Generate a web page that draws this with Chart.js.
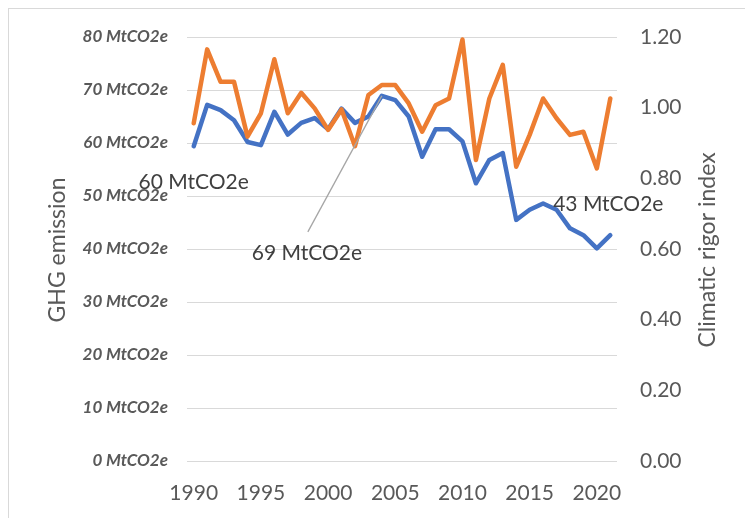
<!DOCTYPE html>
<html>
<head>
<meta charset="utf-8">
<script src="https://cdn.jsdelivr.net/npm/chart.js@4.4.1/dist/chart.umd.min.js"></script>
<style>
  body { margin: 0; background: #fff; overflow: hidden; }
  #wrap { position: absolute; left: 0; top: 0; width: 745px; height: 518px; }
  #frame { position: absolute; left: 8px; top: 8px; width: 800px; height: 600px; border: 1px solid #d9d9d9; pointer-events: none; }
</style>
</head>
<body>
<div id="wrap"><canvas id="chart" width="745" height="518"></canvas></div>
<div id="frame"></div>
<script>
// GHG emissions vs climatic rigor index, 1990-2021
const years = [];
for (let y = 1990; y <= 2021; y++) years.push(y);

const ghg = [59.4, 67.2, 66.2, 64.3, 60.2, 59.6, 65.9, 61.6, 63.8, 64.7, 62.6, 66.5, 63.8, 65.0, 68.9, 68.1,
  65.0, 57.4, 62.6, 62.6, 60.3, 52.4, 56.8, 58.1, 45.5, 47.4, 48.6, 47.4, 43.9, 42.6, 40.1, 42.6];
const rigor = [0.956, 1.165, 1.073, 1.073, 0.918, 0.984, 1.137, 0.984, 1.042, 0.998, 0.937, 0.995, 0.891, 1.036, 1.064, 1.064,
  1.012, 0.932, 1.007, 1.026, 1.193, 0.852, 1.026, 1.121, 0.833, 0.923, 1.026, 0.970, 0.923, 0.932, 0.828, 1.026];

// labelled points: index into years, text, offset of label centre from the point
const callouts = [
  { i: 0, text: '60 MtCO2e', dx: 0, dy: 36, leader: false },
  { i: 14, text: '69 MtCO2e', dx: -75, dy: 157, leader: true },
  { i: 31, text: '43 MtCO2e', dx: -2, dy: -31, leader: false }
];

const extras = {
  id: 'extras',
  afterDatasetsDraw(chart) {
    const ctx = chart.ctx;
    const x = chart.scales.x, y = chart.scales.y;
    ctx.save();
    ctx.font = '21px Lato';
    ctx.fillStyle = '#404040';
    ctx.textAlign = 'center';
    ctx.textBaseline = 'middle';
    callouts.forEach(c => {
      const px = x.getPixelForValue(c.i);
      const py = y.getPixelForValue(ghg[c.i]);
      const lx = px + c.dx, ly = py + c.dy;
      if (c.leader) {
        ctx.strokeStyle = '#a6a6a6';
        ctx.lineWidth = 1.3;
        ctx.beginPath();
        ctx.moveTo(lx + 1, ly - 21);
        ctx.lineTo(px, py);
        ctx.stroke();
      }
      ctx.fillText(c.text, lx, ly);
    });
    // axis titles
    ctx.fillStyle = '#595959';
    ctx.font = '23px Lato';
    ctx.translate(58, 250);
    ctx.rotate(-Math.PI / 2);
    ctx.fillText('GHG emission', 0, 0);
    ctx.rotate(Math.PI / 2);
    ctx.translate(650, 0);
    ctx.rotate(-Math.PI / 2);
    ctx.fillText('Climatic rigor index', 0, 0);
    ctx.restore();
  }
};

new Chart(document.getElementById('chart').getContext('2d'), {
  type: 'line',
  data: {
    labels: years,
    datasets: [
      {
        label: 'GHG emission',
        data: ghg,
        yAxisID: 'y',
        borderColor: '#4472c4',
        borderWidth: 4.5,
        pointRadius: 0,
        borderJoinStyle: 'round',
        borderCapStyle: 'round',
        tension: 0,
        order: 1
      },
      {
        label: 'Climatic rigor index',
        data: rigor,
        yAxisID: 'y1',
        borderColor: '#ed7d31',
        borderWidth: 4.5,
        pointRadius: 0,
        borderJoinStyle: 'round',
        borderCapStyle: 'round',
        tension: 0,
        order: 0
      }
    ]
  },
  options: {
    responsive: false,
    animation: false,
    layout: { padding: { top: 37, left: 0, right: 0, bottom: 0 } },
    plugins: { legend: { display: false }, tooltip: { enabled: false } },
    scales: {
      x: {
        offset: true,
        grid: { display: false, drawTicks: false },
        border: { display: false },
        ticks: {
          autoSkip: false,
          maxRotation: 0,
          padding: 20,
          color: '#595959',
          font: { family: 'Lato', size: 21 },
          callback: function (v) { const yr = years[v]; return yr % 5 === 0 ? String(yr) : ''; }
        },
        afterFit: s => { s.height = 57; }
      },
      y: {
        position: 'left',
        min: 0,
        max: 80,
        grid: { color: '#d9d9d9', lineWidth: 1, drawTicks: false },
        border: { display: false },
        ticks: {
          stepSize: 10,
          padding: 19,
          color: '#595959',
          font: { family: 'Lato', size: 17, weight: 'bold', style: 'italic' },
          callback: v => v + ' MtCO2e'
        },
        afterFit: s => { s.width = 187; }
      },
      y1: {
        position: 'right',
        min: 0,
        max: 1.2,
        grid: { display: false, drawTicks: false },
        border: { display: false },
        ticks: {
          stepSize: 0.2,
          padding: 23,
          color: '#595959',
          font: { family: 'Lato', size: 21 },
          callback: v => v.toFixed(2)
        },
        afterFit: s => { s.width = 128; }
      }
    }
  },
  plugins: [extras]
});
</script>
</body>
</html>
